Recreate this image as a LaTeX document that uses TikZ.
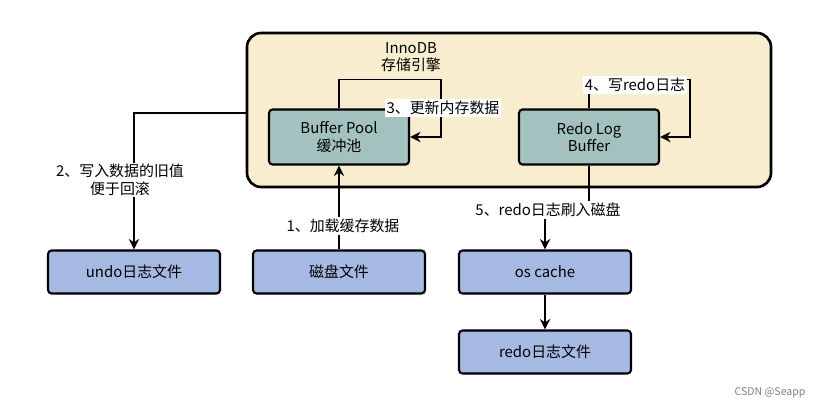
\documentclass[tikz,border=0pt]{standalone}
\usepackage{fontspec}
\setmainfont{Noto Sans CJK SC}
\usetikzlibrary{positioning,arrows.meta}
\definecolor{engine}{HTML}{F8EDCF}
\definecolor{pool}{HTML}{A3C2BF}
\definecolor{disk}{HTML}{A6B9E3}
\tikzset{
  box/.style={draw, line width=1.2, rounded corners=2, align=center, inner sep=0},
  poolbox/.style={box, fill=pool, minimum width=2.8cm, minimum height=1.1cm},
  diskbox/.style={box, fill=disk, minimum width=3.44cm, minimum height=0.86cm},
  lbl/.style={fill=white, inner sep=1pt, align=center},
  flow/.style={-{Stealth[length=6pt,width=6pt]}, line width=0.6},
}
\begin{document}
\begin{tikzpicture}[x=0.02cm, y=-0.02cm, font=\fontsize{8.5}{10}\selectfont]
  \useasboundingbox[fill=white] (0,0) rectangle (822,409);

  % engine
  \draw[line width=1.5, fill=engine, rounded corners=8] (247,33) rectangle (771,187);
  \node[align=center] (inno) at (411,57) {InnoDB\\存储引擎};

  \node[poolbox] (bp) at (339,137) {Buffer Pool\\缓冲池};
  \node[poolbox] (rlb) at (589,137) {Redo Log\\Buffer};

  % files
  \node[diskbox] (undo) at (134,272) {undo日志文件};
  \node[diskbox] (disk) at (339,272) {磁盘文件};
  \node[diskbox] (os) at (545,272) {os cache};
  \node[diskbox] (redo) at (545,352) {redo日志文件};

  % connectors
  \draw[flow] (bp.north) -- ++(0,-29) -| (441,137) -- (bp.east);
  \node[lbl] at (443,108) {3、更新内存数据};

  \draw[flow] (rlb.north) -- ++(0,-29) -| (690,137) -- (rlb.east);
  \node[lbl] at (635,85) {4、写redo日志};

  \draw[flow] (247,113) -| (undo.north);
  \node[lbl] at (120,180) {2、写入数据的旧值\\便于回滚};

  \draw[flow] (disk.north) -- (bp.south);
  \node[lbl] at (343,226) {1、加载缓存数据};

  \draw[flow] (rlb.south) -- (589,210) -| (os.north);
  \node[lbl] at (548,210) {5、redo日志刷入磁盘};

  \draw[flow] (os.south) -- (redo.north);

  \node[text=gray, font=\fontsize{6}{7}\selectfont] at (770,393) {CSDN @Seapp};
\end{tikzpicture}
\end{document}
